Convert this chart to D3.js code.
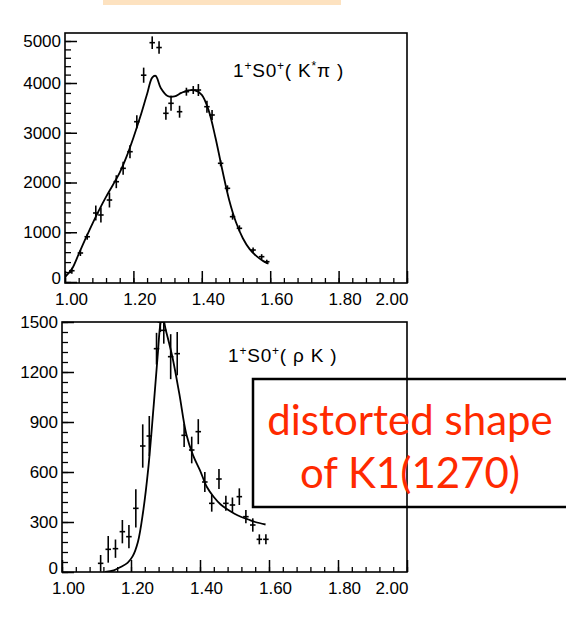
<!DOCTYPE html>
<html>
<head>
<meta charset="utf-8">
<script src="https://cdn.jsdelivr.net/npm/d3@7"></script>
<style>
  html, body { margin: 0; padding: 0; background: #fff; }
  svg { display: block; }
</style>
</head>
<body>
<svg id="chart" width="566" height="641"></svg>
<script>
// ---------- DATA ----------
// Top panel: 1+S0+(K*pi)
const kpiMass  = [1.02, 1.045, 1.065, 1.09, 1.105, 1.13, 1.15, 1.17, 1.19, 1.21, 1.23, 1.255, 1.275, 1.295, 1.31, 1.335, 1.355, 1.375, 1.39, 1.415, 1.43, 1.455, 1.475, 1.49, 1.51, 1.55, 1.575, 1.59];
const kpiValue = [227, 583, 910, 1387, 1347, 1648, 2016, 2285, 2619, 3222, 4186, 4960, 4844, 3391, 3592, 3423, 3825, 3859, 3859, 3524, 3357, 2386, 1883, 1313, 1079, 643, 509, 408];
const kpiErr   = [60, 60, 60, 150, 150, 150, 130, 130, 130, 130, 180, 150, 150, 130, 150, 120, 80, 80, 120, 120, 100, 60, 60, 60, 60, 50, 50, 40];
const kpiCurveMass  = [1.00, 1.02, 1.04, 1.06, 1.08, 1.10, 1.12, 1.14, 1.16, 1.18, 1.20, 1.22, 1.24, 1.255, 1.265, 1.28, 1.30, 1.32, 1.34, 1.36, 1.38, 1.40, 1.42, 1.44, 1.46, 1.48, 1.50, 1.52, 1.54, 1.56, 1.58, 1.595];
const kpiCurveValue = [100, 260, 560, 870, 1170, 1450, 1710, 1950, 2200, 2520, 2900, 3320, 3780, 4130, 4170, 3900, 3740, 3730, 3800, 3850, 3850, 3760, 3450, 2900, 2250, 1650, 1200, 880, 660, 520, 420, 370];
const kpiYTicks = [0, 1000, 2000, 3000, 4000, 5000];

// Bottom panel: 1+S0+(rho K)
const rhoKMass  = [1.112, 1.134, 1.155, 1.175, 1.194, 1.214, 1.234, 1.253, 1.274, 1.285, 1.295, 1.315, 1.334, 1.354, 1.376, 1.395, 1.414, 1.434, 1.455, 1.475, 1.494, 1.514, 1.533, 1.553, 1.572, 1.591];
const rhoKValue = [52, 136, 140, 242, 212, 382, 756, 816, 1340, 1500, 1450, 1292, 1310, 820, 732, 842, 540, 412, 558, 412, 402, 452, 332, 282, 196, 196];
const rhoKErr   = [50, 80, 55, 70, 70, 115, 130, 120, 95, 60, 80, 135, 130, 70, 80, 75, 60, 50, 60, 45, 45, 50, 40, 40, 30, 30];
const rhoKCurveMass  = [1.125, 1.15, 1.17, 1.19, 1.205, 1.22, 1.235, 1.25, 1.265, 1.277, 1.287, 1.292, 1.30, 1.32, 1.34, 1.36, 1.38, 1.40, 1.42, 1.44, 1.46, 1.48, 1.50, 1.52, 1.54, 1.56, 1.59];
const rhoKCurveValue = [0, 10, 30, 55, 95, 180, 360, 620, 980, 1290, 1510, 1530, 1460, 1290, 1070, 830, 700, 610, 510, 450, 405, 375, 350, 330, 315, 300, 285];
const rhoKYTicks = [0, 300, 600, 900, 1200, 1500];

const xTicks = [1.0, 1.2, 1.4, 1.6, 1.8, 2.0];
const annotationLines = ["distorted shape", "of K1(1270)"];

// ---------- DRAW ----------
const svg = d3.select("#chart");
const LABEL_FONT = '"Liberation Sans", Arial, sans-serif';

// peach band at top
svg.append("rect").attr("x", 103).attr("y", 0).attr("width", 238).attr("height", 5).attr("fill", "#FDE2C0");

function range(a, b, step) {
  const out = [];
  for (let v = a; v <= b + step * 1e-6; v += step) out.push(+v.toFixed(6));
  return out;
}

function panel(opts) {
  const { left, right, top, bottom, x, y, yMajor, yMinor, mass, value, err, cMass, cValue, title, titleX, titleY, id } = opts;
  const g = svg.append("g");

  svg.append("clipPath").attr("id", id).append("rect")
    .attr("x", left).attr("y", top).attr("width", right - left).attr("height", bottom - top);

  // minor x ticks
  const xMinor = d3.axisBottom(x).tickValues(range(1.0, 2.0, 0.04)).tickSize(-5).tickSizeOuter(0).tickFormat("");
  g.append("g").attr("transform", `translate(0,${bottom})`).call(xMinor)
    .call(s => s.select(".domain").remove())
    .call(s => s.selectAll("line").attr("stroke", "#000").attr("stroke-width", 1.3));
  // major x ticks
  const xMajor = d3.axisBottom(x).tickValues(xTicks).tickSize(-12).tickSizeOuter(0).tickPadding(10).tickFormat(d3.format(".2f"));
  g.append("g").attr("transform", `translate(0,${bottom})`).call(xMajor)
    .call(s => s.select(".domain").remove())
    .call(s => s.selectAll("line").attr("stroke", "#000").attr("stroke-width", 1.5))
    .call(s => s.selectAll("text").attr("font-size", 17).attr("fill", "#000").attr("font-family", LABEL_FONT)
      .attr("dx", (d, i, n) => i === n.length - 1 ? 1 : 6)
      .attr("text-anchor", (d, i, n) => i === n.length - 1 ? "end" : "middle"));

  // minor y ticks
  const yMin = d3.axisLeft(y).tickValues(yMinor).tickSize(-6).tickSizeOuter(0).tickFormat("");
  g.append("g").attr("transform", `translate(${left},0)`).call(yMin)
    .call(s => s.select(".domain").remove())
    .call(s => s.selectAll("line").attr("stroke", "#000").attr("stroke-width", 1.3));
  const yMaj = d3.axisLeft(y).tickValues(yMajor).tickSize(-12).tickSizeOuter(0).tickPadding(4).tickFormat(d3.format("d"));
  g.append("g").attr("transform", `translate(${left},0)`).call(yMaj)
    .call(s => s.select(".domain").remove())
    .call(s => s.selectAll("line").attr("stroke", "#000").attr("stroke-width", 1.5))
    .call(s => s.selectAll("text").attr("font-size", 17).attr("fill", "#000").attr("font-family", LABEL_FONT)
      .attr("dy", (d, i) => i === 0 ? "0.1em" : "0.32em"));

  // frame
  g.append("rect").attr("x", left).attr("y", top).attr("width", right - left).attr("height", bottom - top)
    .attr("fill", "none").attr("stroke", "#000").attr("stroke-width", 1.6);

  const clipped = g.append("g").attr("clip-path", `url(#${id})`);

  // curve
  const line = d3.line().x(d => x(d[0])).y(d => y(d[1])).curve(d3.curveCatmullRom.alpha(0.5));
  clipped.append("path").datum(cMass.map((m, i) => [m, cValue[i]]))
    .attr("d", line).attr("fill", "none").attr("stroke", "#000").attr("stroke-width", 1.8);

  // data points with error bars
  const pts = mass.map((m, i) => ({ m, v: value[i], e: err[i] }));
  const pg = clipped.selectAll("g.pt").data(pts).join("g").attr("class", "pt");
  pg.append("line")
    .attr("x1", d => x(d.m)).attr("x2", d => x(d.m))
    .attr("y1", d => y(d.v - d.e)).attr("y2", d => y(d.v + d.e))
    .attr("stroke", "#000").attr("stroke-width", 1.6);
  pg.append("line")
    .attr("x1", d => x(d.m - 0.008)).attr("x2", d => x(d.m + 0.008))
    .attr("y1", d => y(d.v)).attr("y2", d => y(d.v))
    .attr("stroke", "#000").attr("stroke-width", 1.6);

  // title
  const t = g.append("text").attr("x", titleX).attr("y", titleY)
    .attr("font-family", LABEL_FONT).attr("font-size", 19).attr("letter-spacing", 0.8).attr("fill", "#000");
  title.forEach(part => {
    const ts = t.append("tspan").text(part.t);
    if (part.sup) ts.attr("font-size", 12).attr("dy", -7);
    if (part.down) ts.attr("dy", 7);
  });
}

// Top panel
const xTop = d3.scaleLinear().domain([1.0, 2.0]).range([65, 407]);
const yTop = d3.scaleLinear().domain([0, 4000, 5000]).range([282, 83, 41]);
panel({
  id: "clipTop", left: 65, right: 407, top: 33, bottom: 283,
  x: xTop, y: yTop, yMajor: kpiYTicks, yMinor: range(0, 5000, 200),
  mass: kpiMass, value: kpiValue, err: kpiErr, cMass: kpiCurveMass, cValue: kpiCurveValue,
  title: [{t: "1"}, {t: "+", sup: true}, {t: "S0", down: true}, {t: "+", sup: true}, {t: "( K", down: true}, {t: "*", sup: true}, {t: "π )", down: true}],
  titleX: 233, titleY: 77
});

// Bottom panel
const xBot = d3.scaleLinear().domain([1.0, 2.0]).range([62, 407]);
const yBot = d3.scaleLinear().domain([0, 1500]).range([572, 322]);
panel({
  id: "clipBot", left: 62, right: 407, top: 322, bottom: 572,
  x: xBot, y: yBot, yMajor: rhoKYTicks, yMinor: range(0, 1500, 60),
  mass: rhoKMass, value: rhoKValue, err: rhoKErr, cMass: rhoKCurveMass, cValue: rhoKCurveValue,
  title: [{t: "1"}, {t: "+", sup: true}, {t: "S0", down: true}, {t: "+", sup: true}, {t: "( ρ K )", down: true}],
  titleX: 228, titleY: 362
});

// annotation box
svg.append("rect").attr("x", 253).attr("y", 379).attr("width", 330).attr("height", 128)
  .attr("fill", "none").attr("stroke", "#000").attr("stroke-width", 2.5);
svg.selectAll("text.annot").data(annotationLines).join("text").attr("class", "annot")
  .attr("x", 410).attr("y", (d, i) => 435 + i * 53)
  .attr("text-anchor", "middle")
  .attr("font-family", "Lato, 'Open Sans', sans-serif").attr("font-size", 42)
  .attr("fill", "#FF2A00")
  .text(d => d);
</script>
</body>
</html>
